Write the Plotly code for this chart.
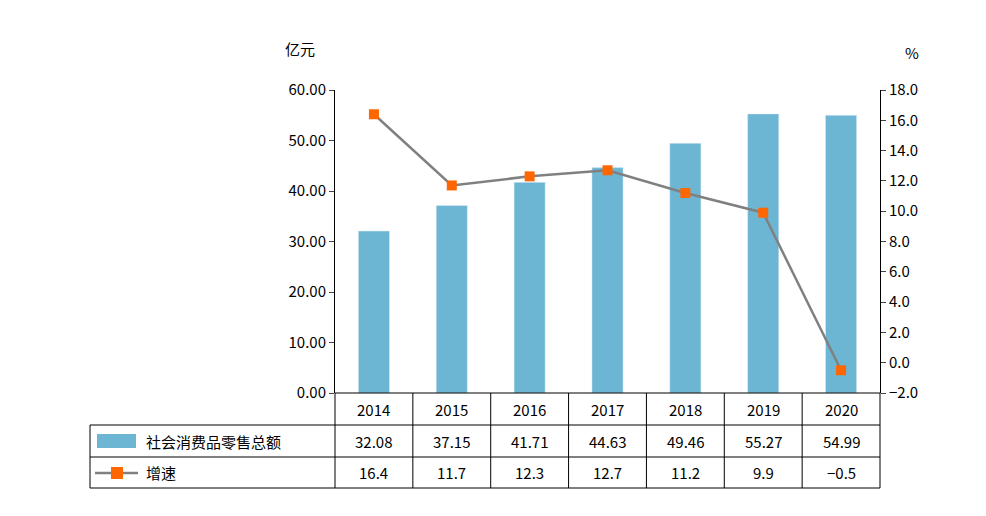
import plotly.graph_objects as go

years = ["2014", "2015", "2016", "2017", "2018", "2019", "2020"]
sales = [32.08, 37.15, 41.71, 44.63, 49.46, 55.27, 54.99]
growth = [16.4, 11.7, 12.3, 12.7, 11.2, 9.9, -0.5]
sales_name = "社会消费品零售总额"
growth_name = "增速"

W, H = 986, 516
L, R, T, B = 335, 880, 90, 393
OFF = 8  # page body margin
font = "Noto Sans CJK SC, DejaVu Sans"

def px(x):
    return (x - L) / (R - L)

def py(y):
    return (B - y) / (B - T)

fig = go.Figure()
fig.add_trace(go.Bar(x=years, y=sales, marker_color="#6cb6d4", width=0.4, name=sales_name))
fig.add_trace(go.Scatter(x=years, y=growth, yaxis="y2", mode="lines+markers", name=growth_name,
                         line=dict(color="#808080", width=2.5),
                         marker=dict(symbol="square", size=10, color="#ff6600")))

shapes = []
def line(x0, y0, x1, y1, color="black", width=1):
    shapes.append(dict(type="line", xref="paper", yref="paper", x0=px(x0), y0=py(y0),
                       x1=px(x1), y1=py(y1), line=dict(color=color, width=width)))

rows = [393, 425, 457, 488]
line(L, 393, R, 393)
for r in rows[1:]:
    line(90, r, R, r)
line(90, 425, 90, 488)
colw = (R - L) / len(years)
for k in range(len(years) + 1):
    line(L + k * colw, 393, L + k * colw, 488)
# legend swatches in table
shapes.append(dict(type="rect", xref="paper", yref="paper", x0=px(97), x1=px(136),
                   y0=py(434), y1=py(448), fillcolor="#6cb6d4", line=dict(width=0)))
line(95, 473, 138, 473, color="#808080", width=2.5)
shapes.append(dict(type="rect", xref="paper", yref="paper", x0=px(111), x1=px(123),
                   y0=py(467), y1=py(479), fillcolor="#ff6600", line=dict(width=0)))

ann = []
def txt(x, y, s, xref="paper", anchor="center"):
    ann.append(dict(x=x, y=py(y), xref=xref, yref="paper", text=s, showarrow=False,
                    xanchor=anchor, yanchor="middle", font=dict(size=15, color="black", family=font)))

for i, yr in enumerate(years):
    xc = px(L + (i + 0.5) * colw)
    txt(xc, 409, yr)
    txt(xc, 441, f"{sales[i]:.2f}")
    txt(xc, 472, f"{growth[i]:.1f}".replace("-", "−"))
txt(px(144), 441, sales_name, anchor="left")
txt(px(144), 472, growth_name, anchor="left")
txt(px(300), 48, "亿元")
txt(px(912), 53, "%")

fig.update_layout(
    width=W, height=H, margin=dict(l=L - OFF, r=W - R + OFF, t=T - OFF, b=H - B + OFF),
    paper_bgcolor="white", plot_bgcolor="white", showlegend=False,
    font=dict(family=font, size=15, color="black"),
    xaxis=dict(showticklabels=False, showline=False, ticks="", range=[-0.5, 6.5]),
    yaxis=dict(range=[0, 60], dtick=10, tickformat=".2f", showgrid=False, showline=True,
               linecolor="black", ticks="outside", ticklen=5, zeroline=False),
    yaxis2=dict(range=[-2, 18], dtick=2, tickformat=".1f", overlaying="y", side="right",
                showgrid=False, showline=True, linecolor="black", ticks="outside", ticklen=5,
                zeroline=False),
    shapes=shapes, annotations=ann,
)
fig.write_html("out.html")
